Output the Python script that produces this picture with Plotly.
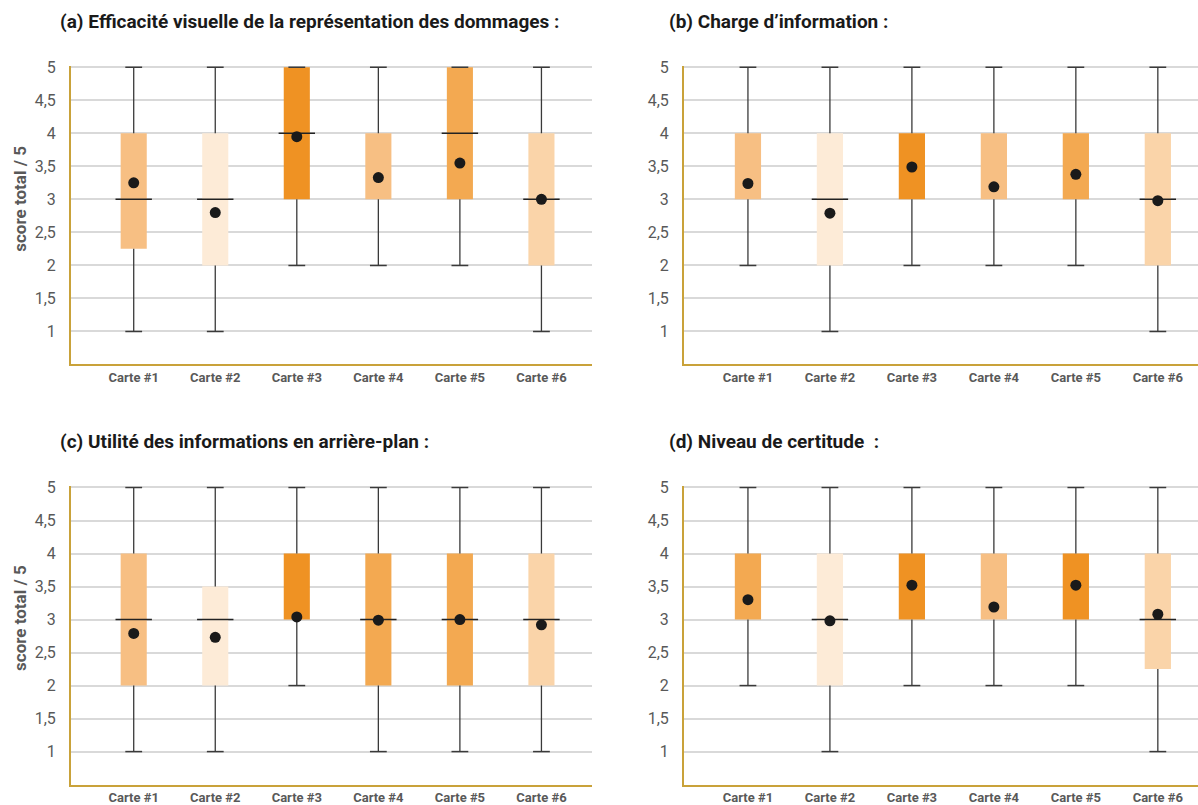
import plotly.graph_objects as go

cartes = ["Carte #1", "Carte #2", "Carte #3", "Carte #4", "Carte #5", "Carte #6"]
positions = [1, 2, 3, 4, 5, 6]
titles = [
    "(a) Efficacité visuelle de la représentation des dommages :",
    "(b) Charge d’information :",
    "(c) Utilité des informations en arrière-plan :",
    "(d) Niveau de certitude  :",
]

# per panel: min, q1, median (None = not visible), q3, max, mean
mins = [
    [1, 1, 2, 2, 2, 1],
    [2, 1, 2, 2, 2, 1],
    [1, 1, 2, 1, 1, 1],
    [2, 1, 2, 2, 2, 1],
]
q1s = [
    [2.25, 2, 3, 3, 3, 2],
    [3, 2, 3, 3, 3, 2],
    [2, 2, 3, 2, 2, 2],
    [3, 2, 3, 3, 3, 2.25],
]
medians = [
    [3, 3, 4, None, 4, 3],
    [None, 3, None, None, None, 3],
    [3, 3, None, 3, 3, 3],
    [None, 3, None, None, None, 3],
]
q3s = [
    [4, 4, 5, 4, 5, 4],
    [4, 4, 4, 4, 4, 4],
    [4, 3.5, 4, 4, 4, 4],
    [4, 4, 4, 4, 4, 4],
]
maxs = [
    [5, 5, 5, 5, 5, 5],
    [5, 5, 5, 5, 5, 5],
    [5, 5, 5, 5, 5, 5],
    [5, 5, 5, 5, 5, 5],
]
means = [
    [3.25, 2.8, 3.95, 3.33, 3.55, 3.0],
    [3.24, 2.79, 3.49, 3.19, 3.38, 2.98],
    [2.79, 2.73, 3.04, 2.99, 3.0, 2.92],
    [3.3, 2.98, 3.52, 3.19, 3.52, 3.08],
]
# colour rank per box (0 darkest .. 4 lightest)
shade_rank = [
    [2, 4, 0, 2, 1, 3],
    [2, 4, 0, 2, 1, 3],
    [2, 4, 0, 1, 1, 3],
    [1, 4, 0, 2, 0, 3],
]
palette = ["#EF9223", "#F3A951", "#F7BF83", "#FAD4A9", "#FDEBD7"]

ytickvals = [1, 1.5, 2, 2.5, 3, 3.5, 4, 4.5, 5]
yticktext = ["1", "1,5", "2", "2,5", "3", "3,5", "4", "4,5", "5"]

W, H = 1198, 805


def py(v):
    # compensate observed vertical offset/scale of the capture
    return (v - 8.9) / 0.987


# panel geometry in pixels: (left, right, top, bottom)
panels_px = [
    (71, 592, 67, 366),
    (684, 1198, 67, 366),
    (71, 592, 488, 787),
    (684, 1198, 488, 787),
]
xranges = [[0.231, 6.62], [0.22, 6.49], [0.231, 6.62], [0.22, 6.49]]

fig = go.Figure()
grid_col = "#D9D9D9"
axis_col = "#C9A23A"
txt_col = "#595959"
wh_col = "#3A3A3A"

for i in range(4):
    xa = "x" if i == 0 else f"x{i+1}"
    ya = "y" if i == 0 else f"y{i+1}"
    # whisker stems (min->q1 and q3->max)
    wx, wy = [], []
    for p, lo, a, b, hi in zip(positions, mins[i], q1s[i], q3s[i], maxs[i]):
        wx += [p, p, None, p, p, None]
        wy += [lo, a, None, b, hi, None]
    fig.add_trace(go.Scatter(
        x=wx, y=wy, mode="lines", xaxis=xa, yaxis=ya,
        line=dict(color=wh_col, width=1.3),
        showlegend=False, hoverinfo="skip"))
    # whisker caps
    fig.add_trace(go.Scatter(
        x=positions + positions, y=mins[i] + maxs[i], mode="markers",
        xaxis=xa, yaxis=ya,
        marker=dict(symbol="line-ew", size=12, color=wh_col,
                    line=dict(width=1.5, color=wh_col)),
        showlegend=False, hoverinfo="skip"))
    # boxes
    fig.add_trace(go.Bar(
        x=positions, y=[b - a for a, b in zip(q1s[i], q3s[i])], base=q1s[i],
        width=0.32, xaxis=xa, yaxis=ya,
        marker=dict(color=[palette[r] for r in shade_rank[i]], line=dict(width=0)),
        showlegend=False, hoverinfo="skip"))
    # medians
    fig.add_trace(go.Scatter(
        x=positions, y=medians[i], mode="markers", xaxis=xa, yaxis=ya,
        marker=dict(symbol="line-ew", size=26, color="#222222",
                    line=dict(width=1.5, color="#222222")),
        showlegend=False, hoverinfo="skip"))
    # means
    fig.add_trace(go.Scatter(
        x=positions, y=means[i], mode="markers", xaxis=xa, yaxis=ya,
        marker=dict(symbol="circle", size=11, color="#1A1A1A"),
        showlegend=False, hoverinfo="skip"))

    l, r, t, b = panels_px[i]
    xkey = "xaxis" if i == 0 else f"xaxis{i+1}"
    ykey = "yaxis" if i == 0 else f"yaxis{i+1}"
    fig.update_layout(**{
        xkey: dict(domain=[l / W, r / W], anchor=ya, range=xranges[i],
                   tickvals=positions, ticktext=cartes, showgrid=False,
                   showline=True, linecolor=axis_col, linewidth=2,
                   zeroline=False, ticks="",
                   tickfont=dict(family="Roboto", size=13, color=txt_col, weight="bold"),
                   fixedrange=True),
        ykey: dict(domain=[1 - py(b) / H, 1 - py(t) / H], anchor=xa, range=[0.5, 5.02],
                   tickvals=ytickvals, ticktext=yticktext, showgrid=True,
                   gridcolor=grid_col, gridwidth=1.5, showline=True,
                   linecolor=axis_col, linewidth=2, zeroline=False,
                   ticks="outside", ticklen=10, tickcolor="rgba(0,0,0,0)",
                   tickfont=dict(family="Roboto", size=16, color=txt_col),
                   fixedrange=True),
    })

annotations = []
title_pos = [(58, 22), (667, 22), (58, 443), (667, 443)]
for i, (tx, ty) in enumerate(title_pos):
    annotations.append(dict(
        text=titles[i], x=tx / W, y=1 - py(ty) / H, xref="paper", yref="paper",
        xanchor="left", yanchor="middle", showarrow=False,
        font=dict(family="Roboto", size=19, color="#1A1A1A", weight="bold")))
for cy in (200, 620):
    annotations.append(dict(
        text="score total / 5", x=20 / W, y=1 - py(cy) / H, xref="paper", yref="paper",
        xanchor="center", yanchor="middle", textangle=-90, showarrow=False,
        font=dict(family="Roboto", size=17, color=txt_col, weight="bold")))

fig.update_layout(
    width=W, height=H, margin=dict(l=0, r=0, t=0, b=0),
    paper_bgcolor="white", plot_bgcolor="white",
    barmode="overlay", annotations=annotations, showlegend=False,
)

post = ("document.body.style.margin='0';"
        "var gd=document.getElementById('{plot_id}');"
        "gd.style.position='fixed';gd.style.left='0px';gd.style.top='0px';")
fig.write_html("out.html", post_script=post, config={"displayModeBar": False})
